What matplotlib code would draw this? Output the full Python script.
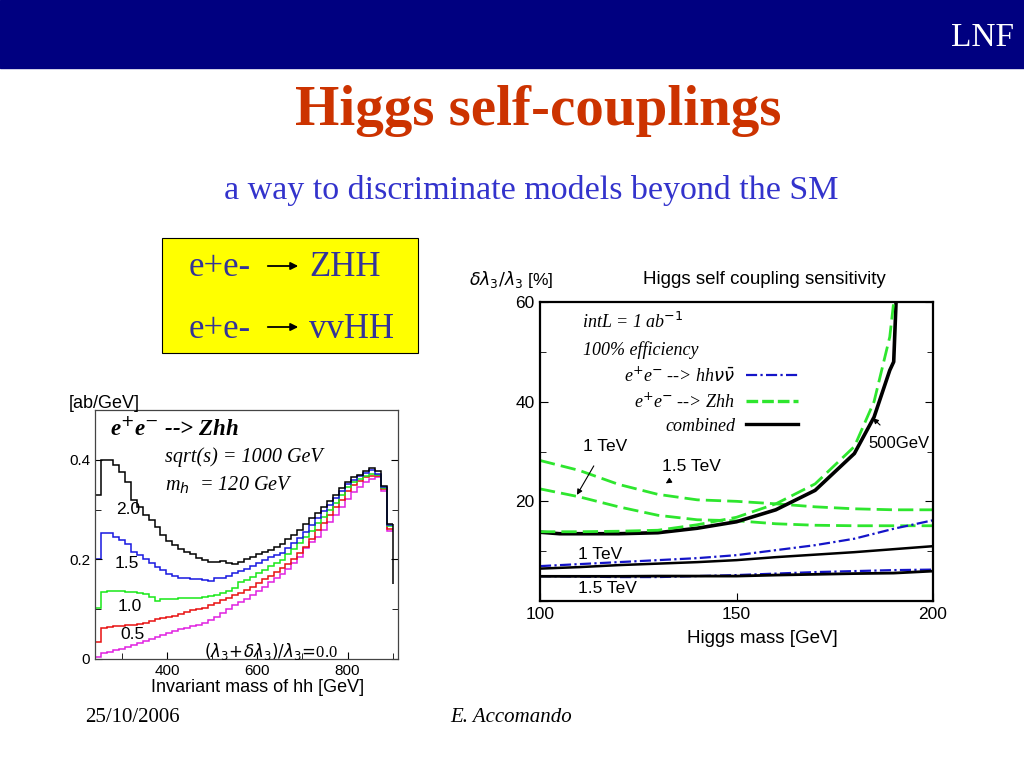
"""Slide: Higgs self-couplings (Zhh spectrum + self-coupling sensitivity)."""

import matplotlib

matplotlib.use("Agg")
import matplotlib.pyplot as plt
import numpy as np
from matplotlib.lines import Line2D
from matplotlib.patches import Rectangle
from matplotlib.ticker import MultipleLocator, FuncFormatter

# ── left panel: dsigma/dM_hh for e+e- -> Zhh, histogram 240..900 GeV ──
HIST_LO, HIST_HI, N_BINS = 240.0, 900.0, 50
lam_labels = ["2.0", "1.5", "1.0", "0.5", "0.0"]
zhh_black = [0.33, 0.40, 0.40, 0.39, 0.375, 0.355, 0.32, 0.305, 0.29, 0.28,
             0.265, 0.25, 0.237, 0.228, 0.22, 0.215, 0.21, 0.202, 0.198, 0.195,
             0.195, 0.197, 0.192, 0.19, 0.195, 0.20, 0.205, 0.21, 0.215, 0.218,
             0.225, 0.23, 0.24, 0.25, 0.26, 0.272, 0.283, 0.294, 0.305, 0.317,
             0.33, 0.343, 0.355, 0.365, 0.37, 0.377, 0.384, 0.377, 0.348, 0.272]
zhh_blue = [0.20, 0.253, 0.253, 0.245, 0.238, 0.23, 0.215, 0.208, 0.20, 0.193,
            0.185, 0.178, 0.17, 0.166, 0.163, 0.162, 0.161, 0.16, 0.159, 0.157,
            0.162, 0.163, 0.167, 0.172, 0.177, 0.18, 0.186, 0.192, 0.198, 0.204,
            0.208, 0.213, 0.222, 0.232, 0.242, 0.255, 0.27, 0.284, 0.297, 0.31,
            0.323, 0.337, 0.351, 0.36, 0.367, 0.373, 0.38, 0.372, 0.346, 0.27]
zhh_green = [0.103, 0.135, 0.137, 0.137, 0.136, 0.135, 0.134, 0.132, 0.13, 0.124,
             0.117, 0.12, 0.12, 0.121, 0.122, 0.122, 0.123, 0.123, 0.124, 0.126,
             0.128, 0.133, 0.137, 0.142, 0.154, 0.158, 0.165, 0.172, 0.179, 0.186,
             0.192, 0.199, 0.21, 0.22, 0.232, 0.245, 0.258, 0.273, 0.286, 0.30,
             0.314, 0.33, 0.345, 0.355, 0.362, 0.368, 0.372, 0.37, 0.343, 0.268]
zhh_red = [0.035, 0.063, 0.064, 0.066, 0.067, 0.068, 0.069, 0.071, 0.073, 0.076,
           0.08, 0.082, 0.084, 0.087, 0.091, 0.095, 0.098, 0.10, 0.103, 0.108,
           0.113, 0.118, 0.123, 0.128, 0.133, 0.138, 0.145, 0.152, 0.16, 0.167,
           0.174, 0.182, 0.19, 0.20, 0.212, 0.225, 0.24, 0.26, 0.274, 0.29,
           0.305, 0.32, 0.337, 0.35, 0.358, 0.365, 0.368, 0.368, 0.342, 0.262]
zhh_magenta = [0.005, 0.012, 0.015, 0.018, 0.021, 0.025, 0.029, 0.033, 0.037, 0.041,
               0.045, 0.049, 0.052, 0.056, 0.06, 0.063, 0.066, 0.069, 0.073, 0.078,
               0.085, 0.092, 0.10, 0.108, 0.115, 0.12, 0.128, 0.136, 0.145, 0.155,
               0.163, 0.17, 0.18, 0.192, 0.205, 0.222, 0.235, 0.245, 0.26, 0.275,
               0.29, 0.305, 0.322, 0.335, 0.345, 0.355, 0.362, 0.365, 0.338, 0.258]
black_tail_end = 0.15

# ── right panel: delta lambda / lambda [%] vs Higgs mass ──
m500 = [100, 105, 110, 120, 130, 140, 150, 160, 170, 180, 185, 189, 190]
zhh_500 = [13.9, 13.9, 13.9, 14.0, 14.2, 15.3, 16.8, 19.5, 23.5, 31.0, 40.0, 53.0, 60.0]
m500_comb = [100, 105, 110, 120, 130, 140, 150, 160, 170, 180, 185, 189, 190, 190.6]
comb_500 = [13.8, 13.5, 13.5, 13.5, 13.7, 14.6, 15.9, 18.3, 22.2, 29.6, 36.9, 46.3, 48.0, 60.0]
m_hi = [100, 110, 120, 130, 140, 150, 160, 170, 180, 190, 200]
zhh_1tev = [28.2, 26.2, 23.4, 21.4, 20.3, 20.0, 19.5, 18.9, 18.5, 18.3, 18.3]
zhh_15tev = [22.5, 20.9, 18.9, 17.2, 16.3, 16.1, 15.5, 15.2, 15.1, 15.1, 15.1]
hhvv_1tev = [7.0, 7.4, 7.8, 8.2, 8.6, 9.2, 10.2, 11.2, 12.5, 14.5, 16.2]
comb_1tev = [6.5, 6.8, 7.2, 7.5, 7.8, 8.2, 8.8, 9.3, 9.8, 10.4, 11.0]
hhvv_15tev = [5.0, 4.9, 4.8, 4.8, 5.0, 5.2, 5.5, 5.8, 6.0, 6.2, 6.3]
comb_15tev = [4.95, 4.95, 4.95, 5.0, 5.0, 5.0, 5.2, 5.35, 5.5, 5.6, 6.0]

NAVY = "#000080"
GREEN = "#2EE62E"
BLUE = "#1414C8"
SERIF = "Liberation Serif"
SANS = "Liberation Sans"

fig = plt.figure(figsize=(10.24, 7.68), dpi=100)
W, H = 1024.0, 768.0


def fx(px):
    return px / W


def fy(py):
    return 1 - py / H


# ── slide frame ──
fig.patches.append(Rectangle((0, fy(68)), 1, 68 / H, transform=fig.transFigure,
                             color=NAVY, zorder=0))
fig.text(fx(982), fy(38), "LNF", color="white", family=SERIF, fontsize=24,
         ha="center", va="center")
fig.text(fx(538), fy(111), "Higgs self-couplings", color="#CC3300", family=SERIF,
         fontsize=41, fontweight="bold", ha="center", va="center")
fig.text(fx(531), fy(190), "a way to discriminate models beyond the SM", color="#3333CC",
         family=SERIF, fontsize=24.5, ha="center", va="center")
fig.patches.append(Rectangle((fx(162), fy(353)), (418 - 162) / W, (353 - 238) / H,
                             transform=fig.transFigure, facecolor="#FFFF00",
                             edgecolor="black", lw=0.8, zorder=0))
box_rows = [("e+e-", "ZHH", 268), ("e+e-", "vvHH", 329)]
for left, right, py in box_rows:
    fig.text(fx(189), fy(py), left, color="#333399", family=SERIF, fontsize=25,
             ha="left", va="center")
    fig.text(fx(309), fy(py), right, color="#333399", family=SERIF, fontsize=25,
             ha="left", va="center")
    fig.add_artist(plt.Annotation("", xy=(fx(301), fy(py - 2)), xytext=(fx(265), fy(py - 2)),
                                  xycoords="figure fraction", textcoords="figure fraction",
                                  arrowprops=dict(arrowstyle="-|>", color="black", lw=1.3,
                                                  mutation_scale=11)))
fig.text(fx(85), fy(717), "25/10/2006", family=SERIF, fontsize=15, ha="left", va="center")
fig.text(fx(450), fy(717), "E. Accomando", family=SERIF, style="italic", fontsize=15,
         ha="left", va="center")

# ── left panel ──
ax1 = fig.add_axes([fx(95), fy(659), (398 - 95) / W, (659 - 410) / H])
edges = np.linspace(HIST_LO, HIST_HI, N_BINS + 1)
hist_series = [
    (zhh_black, "black"),
    (zhh_blue, "#1818E0"),
    (zhh_green, "#18E818"),
    (zhh_red, "#E81010"),
    (zhh_magenta, "#E020E0"),
]
for values, color in hist_series[::-1]:
    ax1.stairs(values, edges, baseline=None, color=color, lw=1.1)
    ax1.vlines(HIST_LO, 0, values[0], color=color, lw=1.1)
ax1.vlines(HIST_HI, black_tail_end, zhh_black[-1], color="black", lw=1.1)
ax1.set_xlim(240, 912)
ax1.set_ylim(0, 0.5)
ax1.xaxis.set_major_locator(MultipleLocator(200))
ax1.xaxis.set_minor_locator(MultipleLocator(100))
ax1.yaxis.set_major_locator(MultipleLocator(0.2))
ax1.yaxis.set_minor_locator(MultipleLocator(0.1))
ax1.yaxis.set_major_formatter(FuncFormatter(lambda v, _: "0" if v == 0 else f"{v:.1f}"))
ax1.tick_params(which="both", direction="in", right=True, top=False, labelsize=11)
ax1.tick_params(which="major", length=5)
ax1.tick_params(which="minor", length=4)
for lab in ax1.get_xticklabels() + ax1.get_yticklabels():
    lab.set_family(SANS)
for sp in ax1.spines.values():
    sp.set_color("#444444")
    sp.set_linewidth(0.9)
ax1.text(-0.085, 1.028, "[ab/GeV]", transform=ax1.transAxes, family=SANS, fontsize=13,
         ha="left", va="center")
ax1.text(0.535, -0.115, "Invariant mass of hh [GeV]", transform=ax1.transAxes,
         family=SANS, fontsize=13, ha="center", va="center")
ax1.text(273, 0.461, r"e$^{+}$e$^{-}$ --> Zhh", family=SERIF, style="italic",
         fontweight="bold", fontsize=16.5, ha="left", va="center")
ax1.text(395, 0.406, "sqrt(s) = 1000 GeV", family=SERIF, style="italic", fontsize=14.5,
         ha="left", va="center")
ax1.text(395, 0.349, r"m$_h$  = 120 GeV", family=SERIF, style="italic", fontsize=14.5,
         ha="left", va="center")
curve_label_pos = [(313, 0.30), (311, 0.192), (318, 0.106), (324, 0.049)]
for txt, (xv, yv) in zip(lam_labels[:4], curve_label_pos):
    ax1.text(xv, yv, txt, family=SANS, fontsize=12.5, ha="center", va="center")
ax1.text(631, 0.016, r"$(\lambda_3\!+\!\delta\lambda_3)/\lambda_3\!=\!$" + lam_labels[4],
         family=SERIF, fontsize=12, ha="center", va="center")

# ── right panel ──
ax2 = fig.add_axes([fx(540), fy(601), (933 - 540) / W, (601 - 302) / H])
green_dash = (5.5, 2.2)
blue_dashdot = (5, 1.5, 1, 1.5)
lw = 2.0
ax2.plot(m_hi, zhh_1tev, color=GREEN, lw=lw, dashes=green_dash)
ax2.plot(m_hi, zhh_15tev, color=GREEN, lw=lw, dashes=green_dash)
ax2.plot(m_hi, hhvv_1tev, color=BLUE, lw=1.6, dashes=blue_dashdot)
ax2.plot(m_hi, hhvv_15tev, color=BLUE, lw=1.6, dashes=blue_dashdot)
ax2.plot(m_hi, comb_1tev, color="black", lw=1.8)
ax2.plot(m_hi, comb_15tev, color="black", lw=2.0)
ax2.plot(m500_comb, comb_500, color="black", lw=2.6)
ax2.plot(m500, zhh_500, color=GREEN, lw=lw, dashes=green_dash)
ax2.set_xlim(100, 200)
ax2.set_ylim(0, 60)
ax2.xaxis.set_major_locator(MultipleLocator(50))
ax2.xaxis.set_minor_locator(MultipleLocator(10))
ax2.yaxis.set_major_locator(MultipleLocator(20))
ax2.yaxis.set_minor_locator(MultipleLocator(10))
ax2.yaxis.set_major_formatter(FuncFormatter(lambda v, _: "" if v == 0 else f"{v:.0f}"))
ax2.tick_params(which="both", direction="in", right=True, top=False, labelsize=12.5)
ax2.tick_params(which="major", length=6, pad=4)
ax2.tick_params(which="minor", length=4)
ax2.tick_params(axis="x", which="minor", length=0)
for lab in ax2.get_xticklabels() + ax2.get_yticklabels():
    lab.set_family(SANS)
for sp in ax2.spines.values():
    sp.set_linewidth(1.6)
ax2.text(-0.18, 1.074, r"$\delta\lambda_3/\lambda_3$ [%]", transform=ax2.transAxes,
         family=SANS, fontsize=12.5, ha="left", va="center")
ax2.text(0.57, 1.074, "Higgs self coupling sensitivity", transform=ax2.transAxes,
         family=SANS, fontsize=13.5, ha="center", va="center")
ax2.text(0.565, -0.124, "Higgs mass [GeV]", transform=ax2.transAxes,
         family=SANS, fontsize=13.5, ha="center", va="center")
ax2.text(110.7, 56, r"intL = 1 ab$^{-1}$", family=SERIF, style="italic", fontsize=13,
         ha="left", va="center")
ax2.text(111, 50.4, "100% efficiency", family=SERIF, style="italic", fontsize=13,
         ha="left", va="center")
handles = [
    Line2D([], [], color=BLUE, lw=1.6, dashes=blue_dashdot),
    Line2D([], [], color=GREEN, lw=2.4, dashes=(3.5, 1.2)),
    Line2D([], [], color="black", lw=2.4),
]
labels = [r"e$^{+}$e$^{-}$ --> hh$\nu\bar{\nu}$", r"e$^{+}$e$^{-}$ --> Zhh", "combined"]
ax2.legend(handles, labels, loc="upper right", bbox_to_anchor=(0.68, 0.815),
           frameon=False, markerfirst=False, handlelength=2.9, labelspacing=0.35,
           borderpad=0, handletextpad=0.6,
           prop=dict(family=SERIF, style="italic", size=13))
ax2.annotate("1 TeV", xy=(109.4, 21.3), xytext=(111, 31.1), family=SANS, fontsize=12.5,
             ha="left", va="center",
             arrowprops=dict(arrowstyle="-|>", color="black", lw=0.8, mutation_scale=8,
                             shrinkA=8, shrinkB=0))
ax2.annotate("1.5 TeV", xy=(132, 23.6), xytext=(131, 26.9), family=SANS, fontsize=12.5,
             ha="left", va="center",
             arrowprops=dict(arrowstyle="-|>", color="black", lw=0.8, mutation_scale=8,
                             shrinkA=6, shrinkB=0))
ax2.annotate("500GeV", xy=(184.7, 36.7), xytext=(183.5, 31.7), family=SANS, fontsize=12,
             ha="left", va="center",
             arrowprops=dict(arrowstyle="-|>", color="black", lw=0.8, mutation_scale=8,
                             shrinkA=8, shrinkB=0))
ax2.text(109.7, 9.3, "1 TeV", family=SANS, fontsize=12.5, ha="left", va="center")
ax2.text(109.7, 2.6, "1.5 TeV", family=SANS, fontsize=12.5, ha="left", va="center")

fig.savefig("out.png", dpi=100)
